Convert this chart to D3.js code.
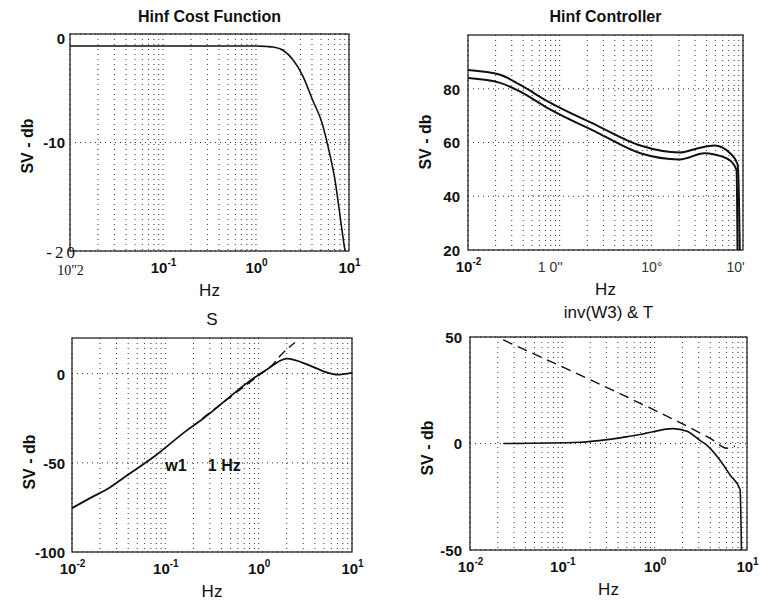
<!DOCTYPE html>
<html>
<head>
<meta charset="utf-8">
<script src="https://cdn.jsdelivr.net/npm/d3@7"></script>
<style>
body { margin: 0; background: #fff; }
svg { display: block; font-family: "Liberation Sans", Arial, sans-serif; }
</style>
</head>
<body>
<svg id="fig" width="760" height="604"></svg>
<script>
// decade ticks, labels as printed on the scanned figure
var decades = [0.01, 0.1, 1, 10];
var costXLabels = ['10"2', '10^-1', '10^0', '10^1'];
var ctrlXLabels = ['10^-2', "1 0''", '10\u00b0', "10'"];
var stdXLabels = ['10^-2', '10^-1', '10^0', '10^1'];

// Hinf cost function
var costTicks = [0, -10, -20];
var costTickLabels = ['0', '-10', '-20'];
var costF  = [0.01, 0.1, 1.0, 1.3, 1.52, 1.95, 2.51, 3.2, 4.07, 5.13, 5.96, 7.08, 7.94, 8.61, 9.06, 9.15];
var costDb = [-1.1, -1.1, -1.1, -1.15, -1.2, -1.5, -2.4, -3.9, -6.1, -8.2, -10.4, -13.5, -16.5, -18.7, -19.9, -20];

// Hinf controller (max / min singular values)
var ctrlTicks = [20, 40, 60, 80];
var ctrlTickLabels = ['20', '40', '60', '80'];
var ctrlMaxF  = [0.01, 0.0224, 0.0372, 0.0724, 0.257, 0.759, 2.04, 3.16, 4.9, 7.24, 8.71, 9.02, 9.23];
var ctrlMaxDb = [87, 85.2, 81.4, 75.5, 66.3, 58.9, 56.3, 57.8, 58.9, 56, 52, 40, 20];
var ctrlMinF  = [0.01, 0.0224, 0.0372, 0.0724, 0.257, 0.759, 2.04, 3.8, 4.9, 7.24, 8.51, 8.71];
var ctrlMinDb = [84, 82.2, 78.9, 73, 63.7, 56, 53.7, 56, 55.5, 53.3, 49.6, 20];

// S and 1/W1
var sTicks = [0, -50, -100];
var sTickLabels = ['0', '-50', '-100'];
var sF  = [0.01, 0.0156, 0.0257, 0.0355, 0.0741, 0.17, 0.247, 0.813, 1.26, 2.0, 3.55, 5.37, 6.92, 10];
var sDb = [-75.4, -69.8, -63.7, -58.5, -46.9, -31.8, -25.7, -3.9, 2.8, 8.4, 4.5, 0.7, -0.5, 0.5];
var w1F  = [0.25, 0.5, 1.0, 1.41, 1.7, 2.45];
var w1Db = [-25, -13, -1, 5, 10, 17.5];
var sNotes = ['w1', '1 Hz'];
var sNoteF = [0.1, 0.285];
var sNoteDb = [-54.7, -54.7];

// inv(W3) and T
var tTicks = [50, 0, -50];
var tTickLabels = ['50', '0', '-50'];
var tF  = [0.0229, 0.155, 0.537, 0.695, 1.58, 2.24, 3.09, 3.72, 5.13, 6.61, 8.41, 8.71];
var tDb = [0, 0.6, 3.4, 4.2, 7, 5.7, 1.5, -1, -8, -15, -21.5, -50];
var w3F  = [0.0229, 0.83, 1.88, 4.17, 6.03, 7.41];
var w3Db = [48.6, 17.3, 9.8, 1.9, -2.2, -1.2];

var svg = d3.select('#fig');

function zip(f, v) {
    return f.map(function (d, i) { return [d, v[i]]; });
}

// writes "10^-1" as 10 with a raised exponent
function putLabel(sel, label, size) {
    sel.text(null);
    var parts = label.split('^');
    sel.append('tspan').text(parts[0]);
    if (parts.length > 1) {
        sel.append('tspan')
            .attr('dy', -7)
            .attr('font-size', size - 5)
            .text(parts[1]);
    }
}

function panel(p) {
    var x = d3.scaleLog().domain([0.01, 10]).range([p.left, p.right]);
    var y = d3.scaleLinear().domain(p.yDomain).range([p.bottom, p.top]);
    var g = svg.append('g');
    var clipId = 'clip' + p.id;

    g.append('clipPath').attr('id', clipId)
        .append('rect')
        .attr('x', p.left).attr('y', p.top)
        .attr('width', p.right - p.left).attr('height', p.bottom - p.top);

    // dotted log grid
    g.append('g').selectAll('line')
        .data(x.ticks())
        .join('line')
        .attr('x1', function (d) { return x(d); })
        .attr('x2', function (d) { return x(d); })
        .attr('y1', p.top).attr('y2', p.bottom)
        .attr('stroke', '#333')
        .attr('stroke-dasharray', '1,4');
    g.append('g').selectAll('line')
        .data(p.yTicks)
        .join('line')
        .attr('x1', p.left).attr('x2', p.right)
        .attr('y1', function (d) { return y(d); })
        .attr('y2', function (d) { return y(d); })
        .attr('stroke', '#333')
        .attr('stroke-dasharray', '1,4');

    // curves
    var line = d3.line()
        .x(function (d) { return x(d[0]); })
        .y(function (d) { return y(d[1]); })
        .curve(d3.curveMonotoneX);
    var curves = g.append('g').attr('clip-path', 'url(#' + clipId + ')');
    p.series.forEach(function (s) {
        curves.append('path')
            .attr('d', line(s.data))
            .attr('fill', 'none')
            .attr('stroke', '#111')
            .attr('stroke-width', s.width || 1.6)
            .attr('stroke-dasharray', s.dash || null);
    });

    g.append('rect')
        .attr('x', p.left).attr('y', p.top)
        .attr('width', p.right - p.left).attr('height', p.bottom - p.top)
        .attr('fill', 'none')
        .attr('stroke', '#111')
        .attr('stroke-width', 1.2);

    // x axis labels
    var xa = g.append('g')
        .attr('transform', 'translate(0,' + (p.bottom + 22) + ')')
        .call(d3.axisBottom(x).tickValues(decades).tickSize(0)
            .tickFormat(function (d, i) { return p.xLabels[i]; }));
    xa.select('.domain').remove();
    xa.selectAll('.tick text')
        .attr('y', 0).attr('dy', 0)
        .attr('fill', '#111')
        .attr('font-family', '"Liberation Sans", Arial, sans-serif')
        .attr('font-size', 15)
        .attr('font-weight', 'bold')
        .each(function (d, i) {
            var t = d3.select(this);
            var lab = p.xLabels[i];
            putLabel(t, lab, 15);
            if (lab.indexOf('^') < 0) {
                if (p.id === 1) {
                    t.attr('font-family', '"Liberation Serif", serif')
                        .attr('font-weight', 'normal').attr('font-size', 14)
                        .attr('y', 2);
                } else {
                    t.attr('font-weight', 'normal').attr('font-size', 14)
                        .attr('fill', '#333');
                    if (i === 1) t.attr('x', -10);
                    if (i === 3) t.attr('x', -8);
                }
            }
        });

    // y axis labels
    var ya = g.append('g')
        .attr('transform', 'translate(' + p.left + ',0)')
        .call(d3.axisLeft(y).tickValues(p.yTicks).tickSize(0).tickPadding(p.yPad)
            .tickFormat(function (d, i) { return p.yLabels[i]; }));
    ya.select('.domain').remove();
    ya.selectAll('.tick text')
        .attr('fill', '#111')
        .attr('font-family', '"Liberation Sans", Arial, sans-serif')
        .attr('font-size', 15)
        .attr('font-weight', 'bold')
        .attr('dy', '0.36em')
        .each(function (d, i) {
            if (p.id === 1 && p.yLabels[i] === '-20') {
                d3.select(this)
                    .attr('font-family', '"Liberation Serif", serif')
                    .attr('font-weight', 'normal')
                    .attr('font-size', 17)
                    .attr('letter-spacing', 3)
                    .attr('x', 8);
            }
            if (p.id === 1 && p.yLabels[i] === '0') d3.select(this).attr('dy', '0.6em');
        });

    // titles
    svg.append('text')
        .attr('x', (p.left + p.right) / 2)
        .attr('y', p.titleY)
        .attr('text-anchor', 'middle')
        .attr('font-size', p.titleBold ? 16 : 17)
        .attr('font-weight', p.titleBold ? 'bold' : 'normal')
        .attr('fill', '#111')
        .text(p.title);
    svg.append('text')
        .attr('x', (p.left + p.right) / 2)
        .attr('y', p.bottom + 45)
        .attr('text-anchor', 'middle')
        .attr('font-size', 17)
        .attr('fill', '#111')
        .text('Hz');
    svg.append('text')
        .attr('transform', 'translate(' + (p.left - 37) + ',' + p.yLabelY + ') rotate(-90)')
        .attr('text-anchor', 'middle')
        .attr('font-size', 16)
        .attr('font-weight', 'bold')
        .attr('fill', '#111')
        .text('SV - db');

    return { x: x, y: y, g: g };
}

panel({
    id: 1, left: 70, right: 349, top: 34, bottom: 251,
    yDomain: [-20, 0], yTicks: costTicks, yLabels: costTickLabels, yPad: 5,
    xLabels: costXLabels, title: 'Hinf Cost Function', titleBold: true, titleY: 22,
    yLabelY: 146,
    series: [{ data: zip(costF, costDb) }]
});

panel({
    id: 2, left: 468, right: 743, top: 35, bottom: 250,
    yDomain: [20, 100], yTicks: ctrlTicks, yLabels: ctrlTickLabels, yPad: 8,
    xLabels: ctrlXLabels, title: 'Hinf Controller', titleBold: true, titleY: 22,
    yLabelY: 142,
    series: [
        { data: zip(ctrlMaxF, ctrlMaxDb), width: 2 },
        { data: zip(ctrlMinF, ctrlMinDb), width: 2 }
    ]
});

var pS = panel({
    id: 3, left: 72, right: 352, top: 338, bottom: 552,
    yDomain: [-100, 20], yTicks: sTicks, yLabels: sTickLabels, yPad: 7,
    xLabels: stdXLabels, title: 'S', titleBold: false, titleY: 325,
    yLabelY: 462,
    series: [
        { data: zip(sF, sDb), width: 1.8 },
        { data: zip(w1F, w1Db), width: 1.4, dash: '9,5' }
    ]
});
pS.g.selectAll('.note')
    .data(sNotes)
    .join('text')
    .attr('class', 'note')
    .attr('x', function (d, i) { return pS.x(sNoteF[i]); })
    .attr('y', function (d, i) { return pS.y(sNoteDb[i]); })
    .attr('font-size', 16)
    .attr('font-weight', 'bold')
    .attr('fill', '#111')
    .text(function (d) { return d; });

panel({
    id: 4, left: 470, right: 747, top: 337, bottom: 550,
    yDomain: [-50, 50], yTicks: tTicks, yLabels: tTickLabels, yPad: 8,
    xLabels: stdXLabels, title: 'inv(W3) & T', titleBold: false, titleY: 318,
    yLabelY: 448,
    series: [
        { data: zip(tF, tDb), width: 1.6 },
        { data: zip(w3F, w3Db), width: 1.4, dash: '10,6' }
    ]
});
</script>
</body>
</html>
